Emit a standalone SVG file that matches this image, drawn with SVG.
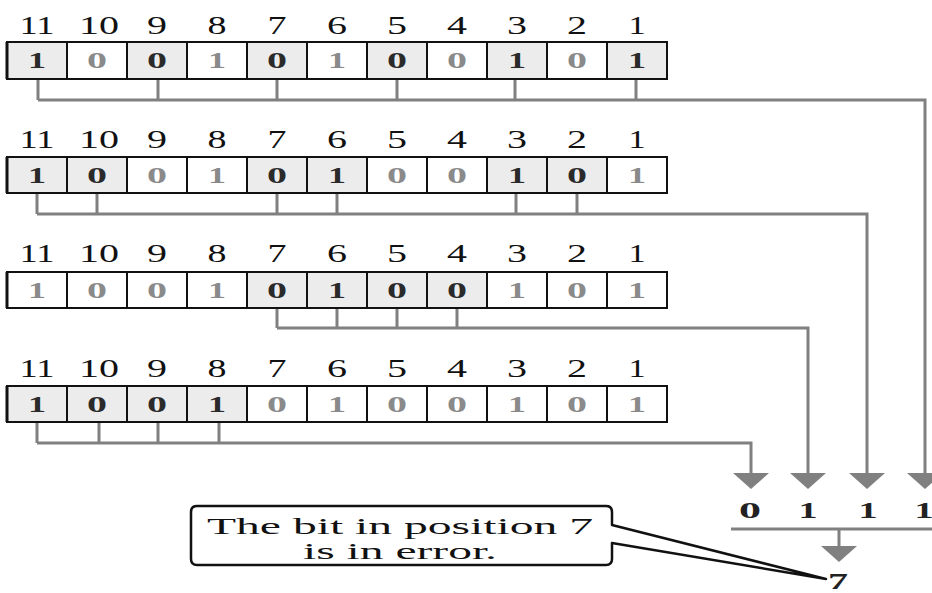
<svg xmlns="http://www.w3.org/2000/svg" width="932" height="593" viewBox="0 0 932 593">
<style>
.lbl{font-family:"Liberation Serif","Times New Roman",serif;font-size:25px;fill:#111;text-anchor:middle}
.cell{stroke:#111;stroke-width:2}
.on{fill:#ececec}
.off{fill:#ffffff}
.dig{font-family:"Liberation Serif","Times New Roman",serif;font-size:23px;font-weight:bold;text-anchor:middle}
.dk{fill:#2a2a2a}
.lt{fill:#8a8a8a}
.conn{fill:none;stroke:#808080;stroke-width:3}
.head{fill:#808080}
.res{font-family:"Liberation Serif","Times New Roman",serif;font-size:23px;font-weight:bold;fill:#222;text-anchor:middle}
.call{font-family:"Liberation Serif","Times New Roman",serif;font-size:23px;fill:#111;text-anchor:middle}
</style>
<defs>
<g id="labels">
<text class="lbl" x="37" textLength="35" lengthAdjust="spacingAndGlyphs">11</text>
<text class="lbl" x="99" textLength="40" lengthAdjust="spacingAndGlyphs">10</text>
<text class="lbl" x="157" textLength="20" lengthAdjust="spacingAndGlyphs">9</text>
<text class="lbl" x="217" textLength="19" lengthAdjust="spacingAndGlyphs">8</text>
<text class="lbl" x="277" textLength="19" lengthAdjust="spacingAndGlyphs">7</text>
<text class="lbl" x="337" textLength="20" lengthAdjust="spacingAndGlyphs">6</text>
<text class="lbl" x="397" textLength="20" lengthAdjust="spacingAndGlyphs">5</text>
<text class="lbl" x="457" textLength="20" lengthAdjust="spacingAndGlyphs">4</text>
<text class="lbl" x="517" textLength="20" lengthAdjust="spacingAndGlyphs">3</text>
<text class="lbl" x="577" textLength="20" lengthAdjust="spacingAndGlyphs">2</text>
<text class="lbl" x="637" textLength="17" lengthAdjust="spacingAndGlyphs">1</text>
</g>
<polygon id="ah" points="-18,0 18,0 0,16" class="head"/>
</defs>

<!-- Row 1: parity over 1,3,5,7,9,11 -->
<g id="row1">
<use href="#labels" y="34"/>
<g transform="translate(0,42)">
<rect class="cell on" x="7" y="0" width="60" height="37"/>
<rect class="cell off" x="67" y="0" width="60" height="37"/>
<rect class="cell on" x="127" y="0" width="60" height="37"/>
<rect class="cell off" x="187" y="0" width="60" height="37"/>
<rect class="cell on" x="247" y="0" width="60" height="37"/>
<rect class="cell off" x="307" y="0" width="60" height="37"/>
<rect class="cell on" x="367" y="0" width="60" height="37"/>
<rect class="cell off" x="427" y="0" width="60" height="37"/>
<rect class="cell on" x="487" y="0" width="60" height="37"/>
<rect class="cell off" x="547" y="0" width="60" height="37"/>
<rect class="cell on" x="607" y="0" width="60" height="37"/>
<line x1="7" y1="0" x2="7" y2="37" stroke="#111" stroke-width="3"/>
<text class="dig dk" x="37" y="26" textLength="18" lengthAdjust="spacingAndGlyphs">1</text>
<text class="dig lt" x="97" y="26" textLength="20" lengthAdjust="spacingAndGlyphs">0</text>
<text class="dig dk" x="157" y="26" textLength="20" lengthAdjust="spacingAndGlyphs">0</text>
<text class="dig lt" x="217" y="26" textLength="18" lengthAdjust="spacingAndGlyphs">1</text>
<text class="dig dk" x="277" y="26" textLength="20" lengthAdjust="spacingAndGlyphs">0</text>
<text class="dig lt" x="337" y="26" textLength="18" lengthAdjust="spacingAndGlyphs">1</text>
<text class="dig dk" x="397" y="26" textLength="20" lengthAdjust="spacingAndGlyphs">0</text>
<text class="dig lt" x="457" y="26" textLength="20" lengthAdjust="spacingAndGlyphs">0</text>
<text class="dig dk" x="517" y="26" textLength="18" lengthAdjust="spacingAndGlyphs">1</text>
<text class="dig lt" x="577" y="26" textLength="20" lengthAdjust="spacingAndGlyphs">0</text>
<text class="dig dk" x="637" y="26" textLength="18" lengthAdjust="spacingAndGlyphs">1</text>
</g>
</g>

<!-- Row 2: parity over 2,3,6,7,10,11 -->
<g id="row2">
<use href="#labels" y="148"/>
<g transform="translate(0,157)">
<rect class="cell on" x="7" y="0" width="60" height="36"/>
<rect class="cell on" x="67" y="0" width="60" height="36"/>
<rect class="cell off" x="127" y="0" width="60" height="36"/>
<rect class="cell off" x="187" y="0" width="60" height="36"/>
<rect class="cell on" x="247" y="0" width="60" height="36"/>
<rect class="cell on" x="307" y="0" width="60" height="36"/>
<rect class="cell off" x="367" y="0" width="60" height="36"/>
<rect class="cell off" x="427" y="0" width="60" height="36"/>
<rect class="cell on" x="487" y="0" width="60" height="36"/>
<rect class="cell on" x="547" y="0" width="60" height="36"/>
<rect class="cell off" x="607" y="0" width="60" height="36"/>
<line x1="7" y1="0" x2="7" y2="36" stroke="#111" stroke-width="3"/>
<text class="dig dk" x="37" y="26" textLength="18" lengthAdjust="spacingAndGlyphs">1</text>
<text class="dig dk" x="97" y="26" textLength="20" lengthAdjust="spacingAndGlyphs">0</text>
<text class="dig lt" x="157" y="26" textLength="20" lengthAdjust="spacingAndGlyphs">0</text>
<text class="dig lt" x="217" y="26" textLength="18" lengthAdjust="spacingAndGlyphs">1</text>
<text class="dig dk" x="277" y="26" textLength="20" lengthAdjust="spacingAndGlyphs">0</text>
<text class="dig dk" x="337" y="26" textLength="18" lengthAdjust="spacingAndGlyphs">1</text>
<text class="dig lt" x="397" y="26" textLength="20" lengthAdjust="spacingAndGlyphs">0</text>
<text class="dig lt" x="457" y="26" textLength="20" lengthAdjust="spacingAndGlyphs">0</text>
<text class="dig dk" x="517" y="26" textLength="18" lengthAdjust="spacingAndGlyphs">1</text>
<text class="dig dk" x="577" y="26" textLength="20" lengthAdjust="spacingAndGlyphs">0</text>
<text class="dig lt" x="637" y="26" textLength="18" lengthAdjust="spacingAndGlyphs">1</text>
</g>
</g>

<!-- Row 3: parity over 4,5,6,7 -->
<g id="row3">
<use href="#labels" y="262"/>
<g transform="translate(0,272)">
<rect class="cell off" x="7" y="0" width="60" height="36"/>
<rect class="cell off" x="67" y="0" width="60" height="36"/>
<rect class="cell off" x="127" y="0" width="60" height="36"/>
<rect class="cell off" x="187" y="0" width="60" height="36"/>
<rect class="cell on" x="247" y="0" width="60" height="36"/>
<rect class="cell on" x="307" y="0" width="60" height="36"/>
<rect class="cell on" x="367" y="0" width="60" height="36"/>
<rect class="cell on" x="427" y="0" width="60" height="36"/>
<rect class="cell off" x="487" y="0" width="60" height="36"/>
<rect class="cell off" x="547" y="0" width="60" height="36"/>
<rect class="cell off" x="607" y="0" width="60" height="36"/>
<line x1="7" y1="0" x2="7" y2="36" stroke="#111" stroke-width="3"/>
<text class="dig lt" x="37" y="26" textLength="18" lengthAdjust="spacingAndGlyphs">1</text>
<text class="dig lt" x="97" y="26" textLength="20" lengthAdjust="spacingAndGlyphs">0</text>
<text class="dig lt" x="157" y="26" textLength="20" lengthAdjust="spacingAndGlyphs">0</text>
<text class="dig lt" x="217" y="26" textLength="18" lengthAdjust="spacingAndGlyphs">1</text>
<text class="dig dk" x="277" y="26" textLength="20" lengthAdjust="spacingAndGlyphs">0</text>
<text class="dig dk" x="337" y="26" textLength="18" lengthAdjust="spacingAndGlyphs">1</text>
<text class="dig dk" x="397" y="26" textLength="20" lengthAdjust="spacingAndGlyphs">0</text>
<text class="dig dk" x="457" y="26" textLength="20" lengthAdjust="spacingAndGlyphs">0</text>
<text class="dig lt" x="517" y="26" textLength="18" lengthAdjust="spacingAndGlyphs">1</text>
<text class="dig lt" x="577" y="26" textLength="20" lengthAdjust="spacingAndGlyphs">0</text>
<text class="dig lt" x="637" y="26" textLength="18" lengthAdjust="spacingAndGlyphs">1</text>
</g>
</g>

<!-- Row 4: parity over 8,9,10,11 -->
<g id="row4">
<use href="#labels" y="377"/>
<g transform="translate(0,386)">
<rect class="cell on" x="7" y="0" width="60" height="36"/>
<rect class="cell on" x="67" y="0" width="60" height="36"/>
<rect class="cell on" x="127" y="0" width="60" height="36"/>
<rect class="cell on" x="187" y="0" width="60" height="36"/>
<rect class="cell off" x="247" y="0" width="60" height="36"/>
<rect class="cell off" x="307" y="0" width="60" height="36"/>
<rect class="cell off" x="367" y="0" width="60" height="36"/>
<rect class="cell off" x="427" y="0" width="60" height="36"/>
<rect class="cell off" x="487" y="0" width="60" height="36"/>
<rect class="cell off" x="547" y="0" width="60" height="36"/>
<rect class="cell off" x="607" y="0" width="60" height="36"/>
<line x1="7" y1="0" x2="7" y2="36" stroke="#111" stroke-width="3"/>
<text class="dig dk" x="37" y="26" textLength="18" lengthAdjust="spacingAndGlyphs">1</text>
<text class="dig dk" x="97" y="26" textLength="20" lengthAdjust="spacingAndGlyphs">0</text>
<text class="dig dk" x="157" y="26" textLength="20" lengthAdjust="spacingAndGlyphs">0</text>
<text class="dig dk" x="217" y="26" textLength="18" lengthAdjust="spacingAndGlyphs">1</text>
<text class="dig lt" x="277" y="26" textLength="20" lengthAdjust="spacingAndGlyphs">0</text>
<text class="dig lt" x="337" y="26" textLength="18" lengthAdjust="spacingAndGlyphs">1</text>
<text class="dig lt" x="397" y="26" textLength="20" lengthAdjust="spacingAndGlyphs">0</text>
<text class="dig lt" x="457" y="26" textLength="20" lengthAdjust="spacingAndGlyphs">0</text>
<text class="dig lt" x="517" y="26" textLength="18" lengthAdjust="spacingAndGlyphs">1</text>
<text class="dig lt" x="577" y="26" textLength="20" lengthAdjust="spacingAndGlyphs">0</text>
<text class="dig lt" x="637" y="26" textLength="18" lengthAdjust="spacingAndGlyphs">1</text>
</g>
</g>

<!-- Connectors -->
<g id="connectors">
<path class="conn" d="M38,80 V100 M158,80 V100 M277,80 V100 M397,80 V100 M515,80 V100 M636,80 V100 M38,100 H925 V474"/>
<use href="#ah" x="925" y="473"/>
<path class="conn" d="M37,194 V214 M97,194 V214 M277,194 V214 M337,194 V214 M516,194 V214 M577,194 V214 M37,214 H867 V474"/>
<use href="#ah" x="867" y="473"/>
<path class="conn" d="M277,309 V328 M337,309 V328 M397,309 V328 M457,309 V328 M277,328 H808 V474"/>
<use href="#ah" x="808" y="473"/>
<path class="conn" d="M37,423 V443 M99,423 V443 M158,423 V443 M219,423 V443 M37,443 H751 V474"/>
<use href="#ah" x="751" y="473"/>
<path class="conn" d="M731,529 H932 M839,529 V547"/>
<use href="#ah" x="839" y="546"/>
</g>

<g id="syndrome">
<text class="res" x="750" y="518" textLength="22" lengthAdjust="spacingAndGlyphs">0</text>
<text class="res" x="808" y="518" textLength="19" lengthAdjust="spacingAndGlyphs">1</text>
<text class="res" x="868" y="518" textLength="19" lengthAdjust="spacingAndGlyphs">1</text>
<text class="res" x="924" y="518" textLength="19" lengthAdjust="spacingAndGlyphs">1</text>
</g>

<g id="result">
<text class="res" x="838" y="589" font-size="25" textLength="20" lengthAdjust="spacingAndGlyphs">7</text>
</g>

<g id="callout">
<path d="M197,506 H606 Q612,506 612,512 V525 L826,579 L612,543 V559 Q612,565 606,565 H197 Q191,565 191,559 V512 Q191,506 197,506 Z" fill="#ffffff" stroke="#111" stroke-width="2.5" stroke-linejoin="round"/>
<text class="call" x="400" y="534" textLength="386" lengthAdjust="spacingAndGlyphs">The bit in position 7</text>
<text class="call" x="400" y="559" textLength="194" lengthAdjust="spacingAndGlyphs">is in error.</text>
</g>
</svg>
